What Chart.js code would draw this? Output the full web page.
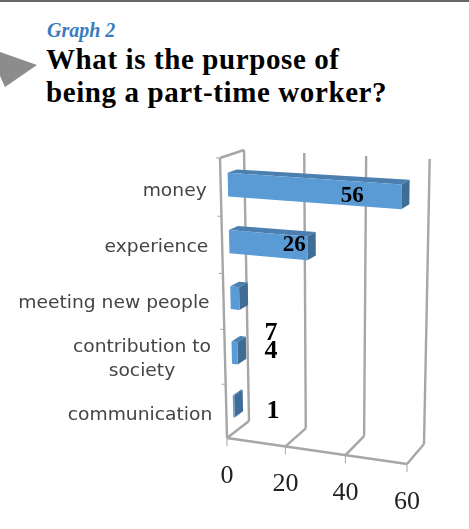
<!DOCTYPE html>
<html>
<head>
<meta charset="utf-8">
<title>Graph 2</title>
<script src="https://cdn.jsdelivr.net/npm/chart.js@4/dist/chart.umd.min.js"></script>
<style>
  html, body { margin: 0; background: #fff; }
  #page { position: relative; width: 469px; height: 529px; overflow: hidden; }
  #rule { position: absolute; left: 0; top: 0; width: 469px; height: 2px; background: #666; }
  #arrow { position: absolute; left: 0; top: 50px; }
  #kicker { position: absolute; left: 47px; top: 19px; font: italic bold 20px "Liberation Serif", serif; color: #3a7dbd; }
  #heading { position: absolute; left: 46px; top: 43px; margin: 0; font: bold 29px/33px "Liberation Serif", serif; color: #000; letter-spacing: 0.6px; }
  canvas { position: absolute; left: 0; top: 0; }
</style>
</head>
<body>
<div id="page">
  <div id="rule"></div>
  <svg id="arrow" width="40" height="40"><polygon points="0,2 37,15 5,37 0,26" fill="#8c8c8c"/></svg>
  <div id="kicker">Graph 2</div>
  <h1 id="heading">What is the purpose of<br>being a part-time worker?</h1>
  <canvas id="chart" width="469" height="529"></canvas>
</div>
<script>
const categories = ['money', 'experience', 'meeting new people', ['contribution to', 'society'], 'communication']
// bar lengths as drawn; the three short bars are shorter than their printed numbers
const barValues = [56, 26, 3, 2, 0.5]
const printedValues = ['56', '26', '7', '4', '1']

// corners of the 3d box the flat chart area gets mapped on to
const backWall = { tl: [244, 150], tr: [429.7, 159], bl: [249, 421], br: [424, 444] }
const frontWall = { tl: [220, 158], tr: [408, 171], bl: [227, 438], br: [407, 464] }
const barDepth = [0.3, 0.68]
const gridColor = '#a6a6a6'

const lerp = (a, b, k) => a + (b - a) * k
const lerpPt = (a, b, k) => [lerp(a[0], b[0], k), lerp(a[1], b[1], k)]

// x, y are pixels from the chart scales, z is 0 at the front and 1 at the back
const project = (chart, x, y, z) => {
  const { left, right, top, bottom } = chart.chartArea
  const u = (x - left) / (right - left)
  const t = (y - top) / (bottom - top)
  const uu = u * (0.96 + 0.04 * u)
  const tt = t * (1.05 - 0.05 * t)
  const plane = wall => lerpPt(lerpPt(wall.tl, wall.tr, uu), lerpPt(wall.bl, wall.br, uu), tt)
  return lerpPt(plane(frontWall), plane(backWall), z)
}

const line = (ctx, a, b) => {
  ctx.beginPath()
  ctx.moveTo(a[0], a[1])
  ctx.lineTo(b[0], b[1])
  ctx.stroke()
}

const face = (ctx, pts, color) => {
  ctx.fillStyle = color
  ctx.beginPath()
  pts.forEach((p, i) => (i ? ctx.lineTo(p[0], p[1]) : ctx.moveTo(p[0], p[1])))
  ctx.closePath()
  ctx.fill()
}

const box3d = {
  id: 'box3d',
  beforeDatasetsDraw(chart) {
    const { ctx, chartArea, scales } = chart
    const { top, bottom, left } = chartArea
    const p = (x, y, z) => project(chart, x, y, z)
    ctx.save()
    ctx.strokeStyle = gridColor
    ctx.lineWidth = 2.4

    // walls and floor
    scales.x.ticks.forEach(tick => {
      const x = scales.x.getPixelForValue(tick.value)
      line(ctx, p(x, top, 1), p(x, bottom, 1))
      line(ctx, p(x, bottom, 1), p(x, bottom, 0))
      const foot = p(x, bottom, 0)
      ctx.lineWidth = 1
      line(ctx, foot, [foot[0], foot[1] + 8])
      ctx.lineWidth = 2.4
    })
    line(ctx, p(left, top, 0), p(left, bottom, 0))
    line(ctx, p(left, top, 0), p(left, top, 1))
    line(ctx, p(left, bottom, 0), p(chartArea.right, bottom, 0))

    // ticks between the categories
    const step = scales.y.getPixelForValue(1) - scales.y.getPixelForValue(0)
    ctx.lineWidth = 1
    categories.forEach((c, i) => {
      const a = p(left, scales.y.getPixelForValue(i) - step / 2, 0)
      line(ctx, a, [a[0] - 4, a[1]])
    })
    ctx.restore()
  },
  // bars are drawn here instead, from the bar elements the library laid out
  beforeDatasetDraw(chart, args) {
    const { ctx } = chart
    const [zf, zb] = barDepth
    ctx.save()
    args.meta.data.forEach(bar => {
      const y0 = bar.y - bar.height / 2
      const y1 = bar.y + bar.height / 2
      const p = (x, y, z) => project(chart, x, y, z)
      face(ctx, [p(bar.base, y0, zf), p(bar.x, y0, zf), p(bar.x, y0, zb), p(bar.base, y0, zb)], '#4a7fb0')
      face(ctx, [p(bar.x, y0, zf), p(bar.x, y0, zb), p(bar.x, y1, zb), p(bar.x, y1, zf)], '#3f6d96')
      face(ctx, [p(bar.base, y0, zf), p(bar.x, y0, zf), p(bar.x, y1, zf), p(bar.base, y1, zf)], '#5b9bd5')
    })
    ctx.restore()
    return false
  },
  afterDatasetsDraw(chart) {
    const { ctx, chartArea, scales } = chart
    ctx.save()
    ctx.textBaseline = 'middle'

    // category labels, slightly stretched like the original face
    ctx.fillStyle = '#444'
    ctx.font = '17px "DejaVu Sans", sans-serif'
    scales.y.ticks.forEach((tick, i) => {
      const y = scales.y.getPixelForValue(i)
      const edge = project(chart, chartArea.left, y, 0)[0] - 14
      const lines = [].concat(tick.label)
      const stretch = 1.1
      const full = ctx.measureText(lines[0]).width * stretch
      lines.forEach((text, n) => {
        const w = ctx.measureText(text).width * stretch
        ctx.save()
        ctx.translate(edge - full + (full - w) / 2, y + (n - (lines.length - 1) / 2) * 24)
        ctx.scale(stretch, 1)
        ctx.textAlign = 'left'
        ctx.fillText(text, 0, 0)
        ctx.restore()
      })
    })

    // value axis labels follow the slanted floor
    ctx.fillStyle = '#222'
    ctx.font = '26px "Liberation Serif", serif'
    ctx.textAlign = 'center'
    scales.x.ticks.forEach(tick => {
      const foot = project(chart, scales.x.getPixelForValue(tick.value), chartArea.bottom, 0)
      ctx.fillText(tick.value, foot[0], foot[1] + 38)
    })

    // printed numbers: the two long bars carry theirs, the others float beside them
    ctx.fillStyle = '#000'
    const bars = chart.getDatasetMeta(0).data
    printedValues.forEach((text, i) => {
      if (i < 2) {
        const end = project(chart, bars[i].x, bars[i].y, barDepth[0])
        ctx.font = 'bold 23px "Liberation Serif", serif'
        ctx.fillText(text, end[0] - (i ? 13 : 49), end[1] + (i ? -3 : -1))
      } else {
        const shift = [0, 0, 29, -9, -5][i]
        ctx.font = 'bold 26px "Liberation Serif", serif'
        ctx.fillText(text, 271 + (i === 4 ? 2 : 0), bars[i].y + shift)
      }
    })
    ctx.restore()
  },
}

new Chart(document.getElementById('chart'), {
  type: 'bar',
  data: {
    labels: categories,
    datasets: [{ data: barValues, backgroundColor: '#5b9bd5', barPercentage: 0.41, categoryPercentage: 1 }],
  },
  options: {
    indexAxis: 'y',
    responsive: false,
    animation: false,
    layout: { padding: { left: 227, right: 62, top: 164, bottom: 77 } },
    plugins: { legend: { display: false }, tooltip: { enabled: false } },
    scales: {
      x: { min: 0, max: 60, ticks: { stepSize: 20, display: false }, grid: { display: false }, border: { display: false } },
      y: { ticks: { display: false }, grid: { display: false }, border: { display: false } },
    },
  },
  plugins: [box3d],
})
</script>
</body>
</html>
